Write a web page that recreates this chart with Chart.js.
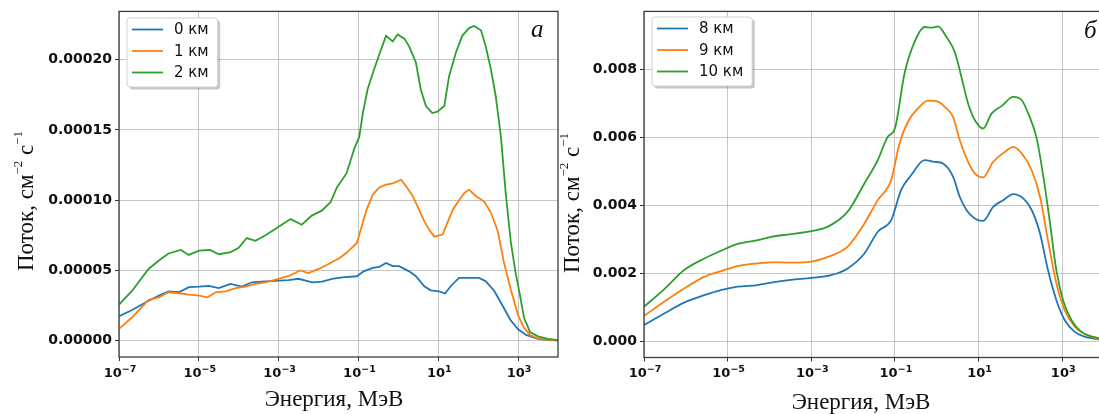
<!DOCTYPE html>
<html>
<head>
<meta charset="utf-8">
<script src="https://cdn.jsdelivr.net/npm/chart.js@4.4.1/dist/chart.umd.min.js"></script>
<style>
html, body { margin: 0; padding: 0; background: #fff; overflow: hidden; width: 1099px; height: 414px; }
#wrapA { position: absolute; left: 0; top: 0; width: 565px; height: 414px; }
#wrapB { position: absolute; left: 560px; top: 0; width: 560px; height: 414px; }
</style>
</head>
<body>
<div id="wrapA"><canvas id="chartA" width="565" height="414"></canvas></div>
<div id="wrapB"><canvas id="chartB" width="560" height="414"></canvas></div>
<script>
// ---- panel а : flux in units of 1e-5, energy given as log10(E, МэВ)
var logE_0km = [-7, -6.67, -6.26, -6.0, -5.76, -5.5, -5.25, -4.99, -4.75, -4.5, -4.21, -3.92, -3.67, -3.42, -3.0, -2.75, -2.5, -2.16, -1.91, -1.66, -1.41, -1.04, -0.87, -0.64, -0.48, -0.31, -0.14, 0.02, 0.27, 0.44, 0.65, 0.81, 1.02, 1.17, 1.31, 1.52, 1.77, 2.02, 2.19, 2.4, 2.61, 2.8, 3.0, 3.2, 3.5, 3.75, 4.0];
var flux_0km = [1.73, 2.18, 2.84, 3.2, 3.5, 3.44, 3.8, 3.84, 3.9, 3.74, 4.03, 3.84, 4.15, 4.2, 4.27, 4.3, 4.4, 4.15, 4.2, 4.4, 4.5, 4.58, 4.93, 5.17, 5.24, 5.53, 5.3, 5.3, 4.93, 4.58, 3.87, 3.58, 3.5, 3.35, 3.87, 4.46, 4.46, 4.46, 4.22, 3.55, 2.5, 1.5, 0.8, 0.4, 0.12, 0.04, 0.01];

var logE_1km = [-7, -6.67, -6.26, -6.0, -5.76, -5.5, -5.25, -4.99, -4.78, -4.58, -4.33, -4.08, -3.83, -3.58, -3.33, -3.0, -2.75, -2.46, -2.25, -2.0, -1.75, -1.46, -1.3, -1.04, -0.92, -0.8, -0.64, -0.48, -0.31, -0.14, 0.07, 0.19, 0.36, 0.48, 0.65, 0.77, 0.9, 1.11, 1.23, 1.36, 1.52, 1.65, 1.77, 1.94, 2.15, 2.32, 2.49, 2.65, 2.82, 3.0, 3.15, 3.3, 3.5, 3.75, 4.0];
var flux_1km = [0.83, 1.66, 2.9, 3.08, 3.44, 3.37, 3.27, 3.2, 3.08, 3.44, 3.5, 3.74, 3.84, 4.03, 4.15, 4.4, 4.6, 5.0, 4.8, 5.1, 5.45, 5.9, 6.25, 6.95, 8.1, 9.3, 10.4, 10.9, 11.1, 11.2, 11.45, 11.0, 10.3, 9.55, 8.5, 7.9, 7.4, 7.55, 8.4, 9.3, 10.0, 10.5, 10.75, 10.3, 9.9, 9.1, 7.8, 5.5, 3.6, 1.8, 0.9, 0.4, 0.15, 0.05, 0.01];

var logE_2km = [-7, -6.67, -6.26, -6.0, -5.76, -5.45, -5.25, -5.0, -4.72, -4.5, -4.2, -4.0, -3.8, -3.58, -3.33, -3.0, -2.7, -2.42, -2.17, -1.92, -1.7, -1.54, -1.3, -1.1, -0.98, -0.89, -0.77, -0.64, -0.48, -0.31, -0.14, -0.02, 0.15, 0.27, 0.44, 0.56, 0.69, 0.85, 0.98, 1.15, 1.27, 1.44, 1.6, 1.77, 1.9, 2.07, 2.19, 2.32, 2.44, 2.57, 2.69, 2.82, 2.94, 3.05, 3.15, 3.3, 3.5, 3.75, 4.0];
var flux_2km = [2.56, 3.55, 5.1, 5.7, 6.2, 6.45, 6.1, 6.4, 6.45, 6.15, 6.3, 6.6, 7.3, 7.1, 7.5, 8.1, 8.65, 8.25, 8.9, 9.25, 9.85, 10.9, 11.9, 13.7, 14.5, 16.2, 17.9, 19.05, 20.35, 21.7, 21.3, 21.8, 21.5, 20.95, 19.8, 17.9, 16.7, 16.2, 16.3, 16.7, 18.8, 20.5, 21.7, 22.25, 22.4, 22.1, 20.95, 19.3, 17.4, 14.5, 10.5, 6.95, 4.8, 3.2, 1.6, 0.6, 0.3, 0.12, 0.03];

// ---- panel б : flux in units of 1e-3
var logE_8km = [-7, -6.52, -6.04, -5.56, -5.16, -4.76, -4.28, -3.96, -3.49, -3.0, -2.53, -2.13, -1.73, -1.41, -1.09, -0.85, -0.61, -0.29, -0.05, 0.15, 0.39, 0.55, 0.71, 0.91, 1.11, 1.35, 1.59, 1.83, 2.07, 2.27, 2.47, 2.66, 2.86, 3.06, 3.3, 3.54, 3.89, 4.0];
var flux_8km = [0.47, 0.81, 1.13, 1.35, 1.5, 1.6, 1.65, 1.72, 1.8, 1.86, 1.94, 2.14, 2.58, 3.22, 3.56, 4.45, 4.89, 5.33, 5.28, 5.23, 4.84, 4.25, 3.86, 3.61, 3.54, 3.95, 4.15, 4.33, 4.2, 3.86, 3.17, 2.09, 1.21, 0.62, 0.27, 0.13, 0.05, 0.04];

var logE_9km = [-7, -6.52, -6.04, -5.56, -5.16, -4.76, -4.28, -3.96, -3.49, -3.0, -2.6, -2.13, -1.73, -1.41, -1.09, -0.89, -0.69, -0.45, -0.21, 0.03, 0.19, 0.39, 0.55, 0.75, 0.91, 1.11, 1.35, 1.63, 1.83, 2.03, 2.27, 2.47, 2.66, 2.86, 3.06, 3.3, 3.54, 3.89, 4.0];
var flux_9km = [0.74, 1.16, 1.55, 1.89, 2.06, 2.21, 2.29, 2.32, 2.31, 2.34, 2.48, 2.78, 3.46, 4.15, 4.74, 5.82, 6.46, 6.85, 7.08, 7.05, 6.9, 6.6, 5.92, 5.28, 4.94, 4.82, 5.28, 5.57, 5.72, 5.53, 5.03, 4.25, 2.97, 1.70, 0.91, 0.42, 0.21, 0.06, 0.05];

var logE_10km = [-7, -6.52, -6.04, -5.56, -5.16, -4.76, -4.28, -3.96, -3.49, -3.0, -2.6, -2.13, -1.73, -1.41, -1.17, -1.0, -0.77, -0.53, -0.29, -0.13, 0.03, 0.23, 0.43, 0.59, 0.75, 0.91, 1.11, 1.31, 1.55, 1.83, 2.03, 2.19, 2.39, 2.55, 2.71, 2.86, 3.02, 3.22, 3.46, 3.89, 4.0];
var flux_10km = [1.01, 1.52, 2.09, 2.43, 2.66, 2.86, 2.97, 3.07, 3.15, 3.24, 3.37, 3.81, 4.64, 5.33, 6.02, 6.26, 7.88, 8.81, 9.25, 9.23, 9.27, 8.96, 8.52, 7.78, 7.0, 6.51, 6.26, 6.7, 6.92, 7.19, 7.1, 6.7, 5.97, 4.84, 3.46, 2.09, 1.21, 0.62, 0.27, 0.08, 0.06];

// ---- ticks
var xTickValues = [1e-7, 1e-5, 1e-3, 1e-1, 1e1, 1e3];
var xTickBase = '10';
var xTickExponents = ['\u22127', '\u22125', '\u22123', '\u22121', '1', '3'];
var yTicksA = [0, 0.00005, 0.0001, 0.00015, 0.0002];
var yTickLabelsA = ['0.00000', '0.00005', '0.00010', '0.00015', '0.00020'];
var yTicksB = [0, 0.002, 0.004, 0.006, 0.008];
var yTickLabelsB = ['0.000', '0.002', '0.004', '0.006', '0.008'];

var blue = '#1f77b4', orange = '#ff7f0e', green = '#2ca02c';

function toPoints(logE, flux, unit) {
    return logE.map(function (e, i) { return { x: Math.pow(10, e), y: flux[i] * unit }; });
}

function drawRuns(ctx, runs, x, y, rot) {
    ctx.save();
    ctx.translate(x, y);
    ctx.rotate(rot);
    var total = 0;
    runs.forEach(function (r) { ctx.font = r.font; r.w = ctx.measureText(r.t).width; total += r.w; });
    var cx = -total / 2;
    ctx.textBaseline = 'alphabetic';
    ctx.textAlign = 'left';
    ctx.fillStyle = '#111';
    runs.forEach(function (r) { ctx.font = r.font; ctx.fillText(r.t, cx, -(r.up || 0)); cx += r.w; });
    ctx.restore();
}

var serif = '"Liberation Serif", "Times New Roman", serif';
var yTitleRuns = [
    { t: 'Поток, см', font: '23px ' + serif },
    { t: '\u22122', font: '13px ' + serif, up: 11 },
    { t: ' с', font: '23px ' + serif },
    { t: '\u22121', font: '13px ' + serif, up: 11 }
];

var decorPlugin = {
    id: 'decor',
    afterDraw: function (chart, args, o) {
        var ctx = chart.ctx, a = chart.chartArea;
        ctx.save();
        // axes frame
        ctx.strokeStyle = '#3c3c3c';
        ctx.lineWidth = 1.3;
        ctx.strokeRect(a.left, a.top, a.right - a.left, a.bottom - a.top);

        // legend box
        var ds = chart.data.datasets;
        ctx.font = '15px "DejaVu Sans"';
        var tw = 0;
        ds.forEach(function (d) { tw = Math.max(tw, ctx.measureText(d.label).width); });
        var bx = o.legendX, by = o.legendY, bw = 5 + 31 + 11 + tw + 9, bh = 69;
        ctx.beginPath(); ctx.roundRect(bx + 2.5, by + 2.5, bw, bh, 3);
        ctx.fillStyle = 'rgba(0,0,0,0.22)'; ctx.fill();
        ctx.beginPath(); ctx.roundRect(bx, by, bw, bh, 3);
        ctx.fillStyle = '#fff'; ctx.fill();
        ctx.strokeStyle = '#d0d0d0'; ctx.lineWidth = 1; ctx.stroke();
        ds.forEach(function (d, i) {
            var ry = by + 11.5 + i * 21.5;
            ctx.strokeStyle = d.borderColor; ctx.lineWidth = 1.8;
            ctx.beginPath(); ctx.moveTo(bx + 5, ry); ctx.lineTo(bx + 36, ry); ctx.stroke();
            ctx.fillStyle = '#111'; ctx.textBaseline = 'middle'; ctx.textAlign = 'left';
            ctx.fillText(d.label, bx + 47, ry + 1);
        });

        // panel letter
        ctx.font = 'italic 25px ' + serif;
        ctx.fillStyle = '#111'; ctx.textBaseline = 'alphabetic'; ctx.textAlign = 'left';
        ctx.fillText(o.letter, o.letterX, o.letterY);
        ctx.restore();

        // x tick labels: 10 with raised exponent
        var xs = chart.scales.x;
        xTickValues.forEach(function (v, i) {
            drawRuns(ctx, [
                { t: xTickBase, font: 'bold 13px "DejaVu Sans"' },
                { t: xTickExponents[i], font: 'bold 9.5px "DejaVu Sans"', up: 5 }
            ], xs.getPixelForValue(v) + 1, 377, 0);
        });

        // axis titles
        drawRuns(ctx, [{ t: 'Энергия, МэВ', font: '23px ' + serif }], o.xTitleX, o.xTitleY, 0);
        drawRuns(ctx, yTitleRuns, o.yTitleX, o.yTitleY, -Math.PI / 2);
    }
};

function makeChart(id, datasets, cfg) {
    var gridColor = 'rgba(160,160,160,0.6)';
    return new Chart(document.getElementById(id).getContext('2d'), {
        type: 'line',
        data: { datasets: datasets },
        options: {
            responsive: false,
            animation: false,
            parsing: false,
            layout: { padding: { left: 0, top: cfg.top, right: cfg.right, bottom: 0 } },
            elements: { point: { radius: 0 }, line: { borderWidth: 1.8 } },
            plugins: { legend: { display: false }, tooltip: { enabled: false }, decor: cfg.decor },
            scales: {
                x: {
                    type: 'logarithmic', min: 1e-7, max: 1e4,
                    afterBuildTicks: function (s) { s.ticks = xTickValues.map(function (v) { return { value: v }; }); },
                    afterFit: function (s) { s.height = cfg.xHeight; },
                    ticks: { display: false, autoSkip: false, maxRotation: 0 },
                    grid: { color: gridColor, lineWidth: 1, tickLength: 4, tickColor: '#333', tickWidth: 1 },
                    border: { display: false }
                },
                y: {
                    min: cfg.yMin, max: cfg.yMax,
                    afterBuildTicks: function (s) { s.ticks = cfg.yTicks.map(function (v) { return { value: v }; }); },
                    afterFit: function (s) { s.width = cfg.yWidth; },
                    ticks: {
                        padding: 3, color: '#111',
                        font: { family: 'DejaVu Sans', weight: 'bold', size: 14 },
                        callback: function (v, i) { return cfg.yLabels[i]; }
                    },
                    grid: { color: gridColor, lineWidth: 1, tickLength: 4, tickColor: '#333', tickWidth: 1 },
                    border: { display: false }
                }
            }
        },
        plugins: [decorPlugin]
    });
}

makeChart('chartA', [
    { label: '0 км', data: toPoints(logE_0km, flux_0km, 1e-5), borderColor: blue, order: 3, tension: 0 },
    { label: '1 км', data: toPoints(logE_1km, flux_1km, 1e-5), borderColor: orange, order: 2, tension: 0 },
    { label: '2 км', data: toPoints(logE_2km, flux_2km, 1e-5), borderColor: green, order: 1, tension: 0 }
], {
    top: 10, right: 7, xHeight: 57, yWidth: 119,
    yMin: -0.0000117, yMax: 0.0002344, yTicks: yTicksA, yLabels: yTickLabelsA,
    decor: { legendX: 127, legendY: 18, letter: 'а', letterX: 531, letterY: 37,
             xTitleX: 334, xTitleY: 406, yTitleX: 33, yTitleY: 201 }
});

makeChart('chartB', [
    { label: '8 км', data: toPoints(logE_8km, flux_8km, 1e-3), borderColor: blue, order: 3, cubicInterpolationMode: 'monotone' },
    { label: '9 км', data: toPoints(logE_9km, flux_9km, 1e-3), borderColor: orange, order: 2, cubicInterpolationMode: 'monotone' },
    { label: '10 км', data: toPoints(logE_10km, flux_10km, 1e-3), borderColor: green, order: 1, cubicInterpolationMode: 'monotone' }
], {
    top: 11, right: 16, xHeight: 56.5, yWidth: 84,
    yMin: -0.000485, yMax: 0.00971, yTicks: yTicksB, yLabels: yTickLabelsB,
    decor: { legendX: 92, legendY: 17, letter: 'б', letterX: 524, letterY: 38,
             xTitleX: 301, xTitleY: 409, yTitleX: 19, yTitleY: 203 }
});
</script>
</body>
</html>
